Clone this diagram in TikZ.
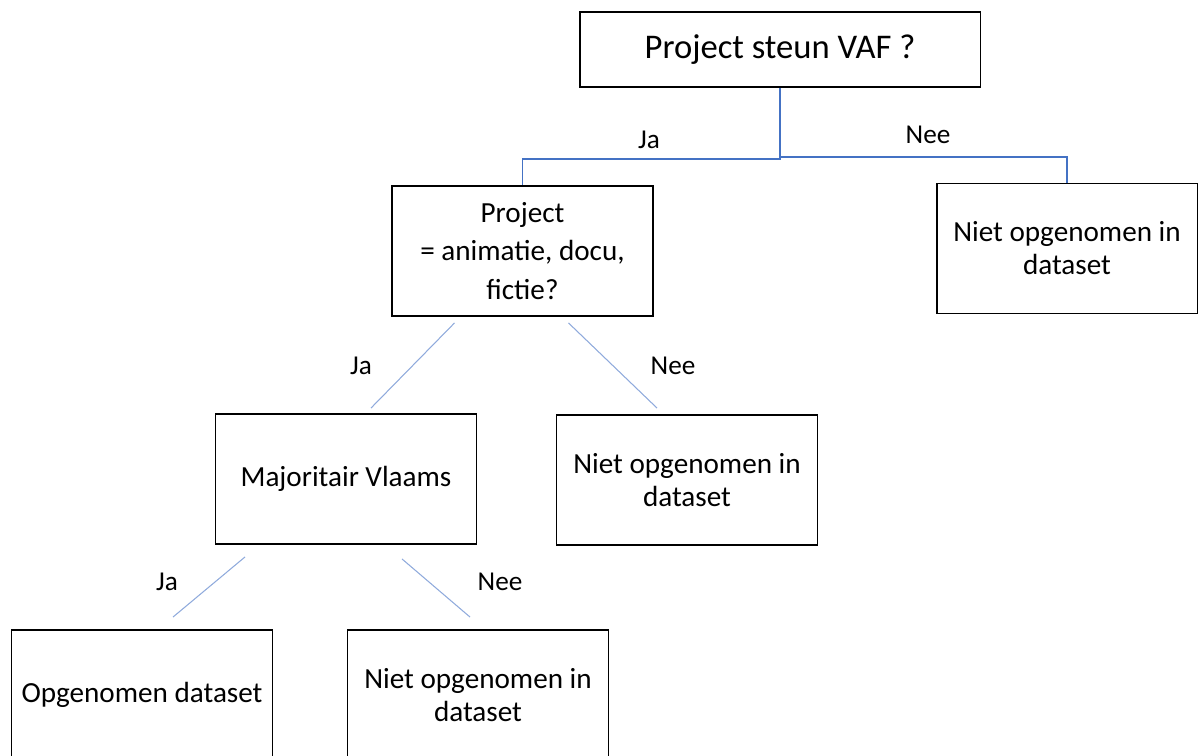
\documentclass[tikz,border=0pt]{standalone}
\usepackage{fontspec}
\setmainfont{Carlito}
\usetikzlibrary{calc}

\definecolor{darkline}{HTML}{4472C4}
\definecolor{lightline}{HTML}{8FAADC}

\begin{document}
\begin{tikzpicture}[x=0.02cm, y=-0.02cm, box/.style={draw, rectangle, line width=1.1pt, minimum width=5.22cm, minimum height=2.6cm, align=center, inner sep=0pt, font=\fontsize{16.6}{18.7}\selectfont}, question/.style={box, minimum width=8.02cm, minimum height=1.5cm, font=\fontsize{19.7}{23}\selectfont}, lbl/.style={inner sep=0pt, font=\fontsize{15.5}{18}\selectfont}, tree/.style={darkline, line width=1.1pt}, branch/.style={lightline, line width=0.6pt}]
            \useasboundingbox (0,0) rectangle (1200,756);
            \clip (0,0) rectangle (1200,756);
            % nodes
            \node[question] (vaf) at (780,49.5) {Project steun VAF ?};
            \node[box] (genre) at (522.5,251) {Project\\[3.3pt] = animatie, docu,\\[3.3pt] fictie?};
            \node[box] (nee1) at (1067,248.5) {Niet opgenomen in\\dataset};
            \node[box] (vlaams) at (346,479) {Majoritair Vlaams};
            \node[box] (nee2) at (687,480) {Niet opgenomen in\\dataset};
            \node[box] (opg) at (142,695) {Opgenomen dataset};
            \node[box] (nee3) at (478,695) {Niet opgenomen in\\dataset};
            % labels
            \node[lbl] (ja1) at (649,140) {Ja};
            \node[lbl] (neelbl1) at (928,135) {Nee};
            \node[lbl] (ja2) at (361,366) {Ja};
            \node[lbl] (neelbl2) at (673,366) {Nee};
            \node[lbl] (ja3) at (167,582) {Ja};
            \node[lbl] (neelbl3) at (500,582) {Nee};
            % edges
            \draw[tree] (vaf.south) -- ++(0,71) -| (genre.north);
            \draw[tree] (vaf.south) -- ++(0,69) -| (nee1.north);
            \draw[branch] ($(genre.south)+(-68,6)$) -- ($(vlaams.north)+(25,-5)$);
            \draw[branch] ($(genre.south)+(46,6)$) -- ($(nee2.north)+(-30,-6)$);
            \draw[branch] ($(vlaams.south)+(-101,12)$) -- ($(opg.north)+(31,-12)$);
            \draw[branch] ($(vlaams.south)+(56,14)$) -- ($(nee3.north)+(-8,-12)$);
        \end{tikzpicture}
\end{document}
